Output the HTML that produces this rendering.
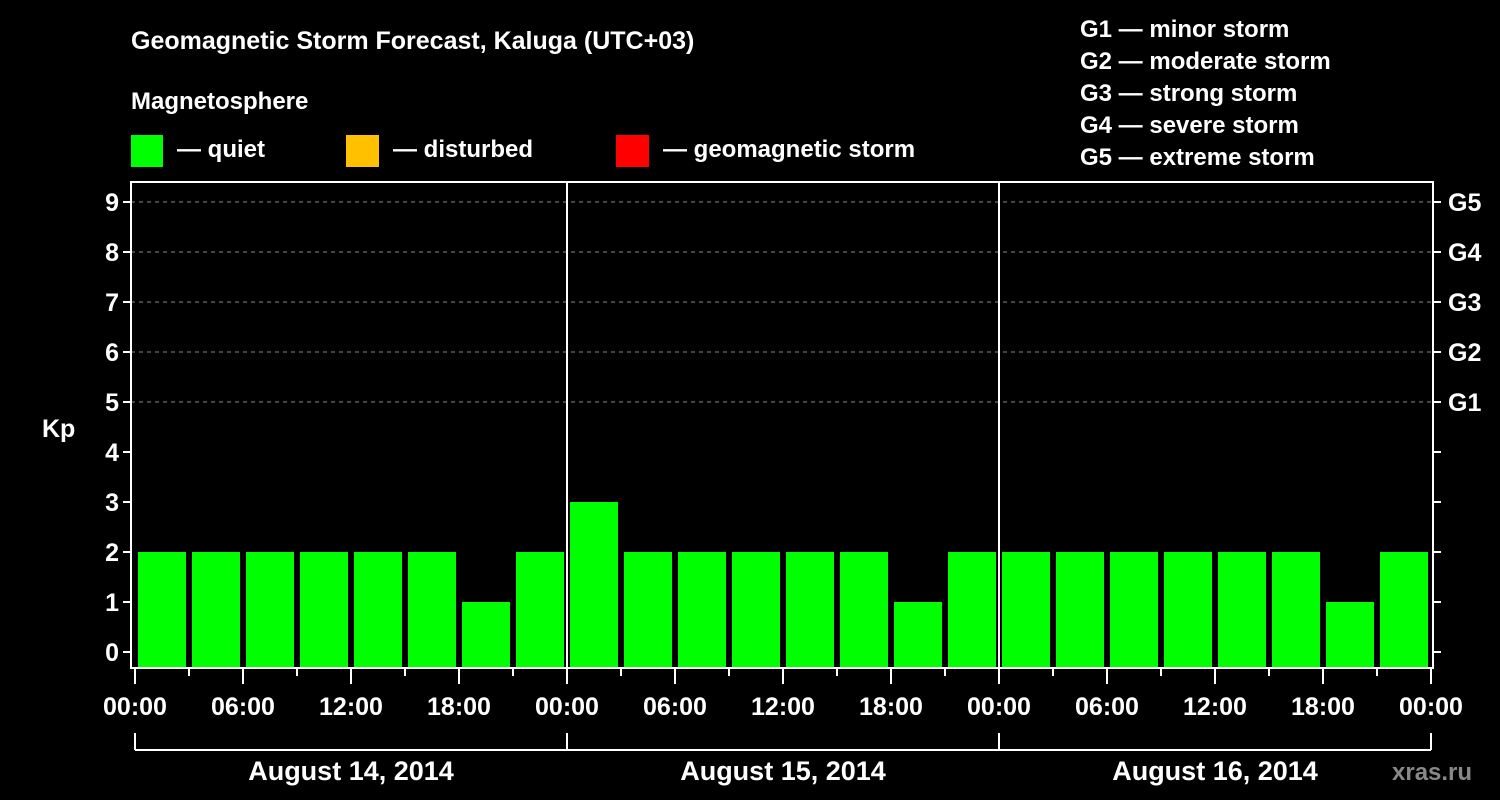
<!DOCTYPE html>
<html><head><meta charset="utf-8"><style>
html,body{margin:0;padding:0;background:#000;width:1500px;height:800px;overflow:hidden}
svg{display:block;font-family:"Liberation Sans",Arial,sans-serif;font-weight:bold}
</style></head><body>
<svg id="chart" width="1500" height="800" xmlns="http://www.w3.org/2000/svg">
<rect width="1500" height="800" fill="#000"/>
<text x="131" y="49" fill="#fff" font-size="25">Geomagnetic Storm Forecast, Kaluga (UTC+03)</text>
<text x="131" y="109" fill="#fff" font-size="24">Magnetosphere</text>
<g><rect x="131" y="135" width="32" height="32" fill="#00ff00"/><text x="177" y="157" fill="#fff" font-size="24">— quiet</text></g>
<g><rect x="346" y="135" width="33" height="32" fill="#ffc000"/><text x="393" y="157" fill="#fff" font-size="24">— disturbed</text></g>
<g><rect x="616" y="135" width="33" height="32" fill="#ff0000"/><text x="663" y="157" fill="#fff" font-size="24">— geomagnetic storm</text></g>
<g fill="#fff" font-size="24">
<text x="1080" y="37">G1 — minor storm</text>
<text x="1080" y="69">G2 — moderate storm</text>
<text x="1080" y="101">G3 — strong storm</text>
<text x="1080" y="133">G4 — severe storm</text>
<text x="1080" y="165">G5 — extreme storm</text>
</g>
<text x="42" y="437" fill="#fff" font-size="25">Kp</text>
<text x="1392" y="780" fill="#888" font-size="24">xras.ru</text>
<g id="grid"></g><g id="bars"></g><g id="axes"></g>
</svg>
<script>
const values=[2,2,2,2,2,2,1,2, 3,2,2,2,2,2,1,2, 2,2,2,2,2,2,1,2];
const yTicks=[0,1,2,3,4,5,6,7,8,9];
const gLabels=["G1","G2","G3","G4","G5"];
const gLevels=[5,6,7,8,9];
const xLabels=["00:00","06:00","12:00","18:00","00:00","06:00","12:00","18:00","00:00","06:00","12:00","18:00","00:00"];
const days=["August 14, 2014","August 15, 2014","August 16, 2014"];
const NS="http://www.w3.org/2000/svg";
const L=131,R=1433,T=182,B=668,x0=135,hourW=18;
const y=v=>652-v*50;
const x=h=>x0+h*hourW;
function mk(p,tag,a){const e=document.createElementNS(NS,tag);for(const k in a)e.setAttribute(k,a[k]);p.appendChild(e);return e;}
const grid=document.getElementById('grid'),bars=document.getElementById('bars'),axes=document.getElementById('axes');
gLevels.forEach(v=>{const l=mk(grid,'line',{x1:L,x2:R,y1:y(v),y2:y(v),stroke:'#888','stroke-dasharray':'4,4','stroke-width':1});

});
values.forEach((v,i)=>{const r=mk(bars,'rect',{x:x(i*3)+3,y:y(v),width:48,height:B-1-y(v),fill:v>=5?'#ff0000':(v>=4?'#ffc000':'#00ff00')});

});
const f=mk(axes,'rect',{x:L,y:T,width:R-L,height:B-T,fill:'none',stroke:'#fff','stroke-width':2});


[1,2].forEach(d=>{const l=mk(axes,'line',{x1:x(d*24),x2:x(d*24),y1:T,y2:B,stroke:'#fff','stroke-width':2});

});
yTicks.forEach(v=>{mk(axes,'line',{x1:L-8,x2:L,y1:y(v),y2:y(v),stroke:'#fff','stroke-width':2});
if(v<5)mk(axes,'line',{x1:R,x2:R+8,y1:y(v),y2:y(v),stroke:'#fff','stroke-width':2});
const t=mk(axes,'text',{x:L-12,y:y(v)+9,fill:'#fff','font-size':25,'text-anchor':'end'});t.textContent=v;

});
gLevels.forEach((v,i)=>{mk(axes,'line',{x1:R,x2:R+8,y1:y(v),y2:y(v),stroke:'#fff','stroke-width':2});
const t=mk(axes,'text',{x:R+15,y:y(v)+9,fill:'#fff','font-size':25});t.textContent=gLabels[i];

});
for(let h=0;h<=72;h+=3){const major=h%6===0;mk(axes,'line',{x1:x(h),x2:x(h),y1:B,y2:B+(major?16:8),stroke:'#fff','stroke-width':2});}
xLabels.forEach((s,i)=>{const t=mk(axes,'text',{x:x(i*6),y:715,fill:'#fff','font-size':25,'text-anchor':'middle'});t.textContent=s;

});
mk(axes,'line',{x1:x(0),x2:x(72),y1:750,y2:750,stroke:'#fff','stroke-width':2});
for(let d=0;d<=3;d++)mk(axes,'line',{x1:x(d*24),x2:x(d*24),y1:733,y2:750,stroke:'#fff','stroke-width':2});
days.forEach((s,i)=>{const t=mk(axes,'text',{x:x(i*24+12),y:780,fill:'#fff','font-size':27,'text-anchor':'middle'});t.textContent=s;

});
</script>
</body></html>
